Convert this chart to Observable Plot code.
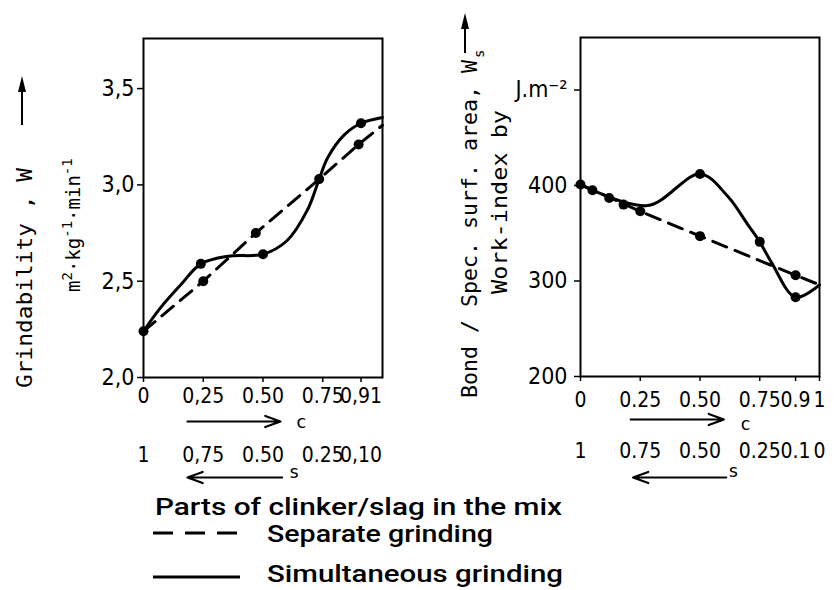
<!DOCTYPE html>
<html><head><meta charset="utf-8">
<script src="https://cdn.jsdelivr.net/npm/d3@7"></script>
<script src="https://cdn.jsdelivr.net/npm/@observablehq/plot@0.6"></script>
<style>
body{margin:0;background:#fff}
#wrap{position:relative;width:835px;height:590px;overflow:hidden;background:#fff}
#wrap > svg{position:absolute;top:0}
#overlay{left:0;pointer-events:none}
#overlay text{fill:#000}
</style></head><body><div id="wrap"></div>
<script>
// ---------- Left panel: Grindability W ----------
const cTicksL = [0, 0.25, 0.5, 0.75, 0.91];
const cLabelsL = ["0", "0,25", "0.50", "0.75", "0,91"];
const sLabelsL = ["1", "0,75", "0.50", "0.25", "0,10"];
const wTicks = [2.0, 2.5, 3.0, 3.5];
const wLabels = ["2,0", "2,5", "3,0", "3,5"];
// simultaneous grinding curve (solid)
const simC_L = [0, 0.07, 0.155, 0.24, 0.355, 0.5, 0.60, 0.686, 0.735, 0.77, 0.84, 0.91, 1.0];
const simW_L = [2.24, 2.36, 2.48, 2.59, 2.63, 2.64, 2.71, 2.87, 3.03, 3.14, 3.26, 3.32, 3.35];
// separate grinding curve (dashed)
const sepC_L = [0, 0.25, 0.47, 0.735, 0.9, 1.0];
const sepW_L = [2.24, 2.50, 2.75, 3.03, 3.21, 3.31];
// measured points
const dotC_L = [0, 0.24, 0.5, 0.735, 0.91, 0.25, 0.47, 0.9];
const dotW_L = [2.24, 2.59, 2.64, 3.03, 3.32, 2.50, 2.75, 3.21];

// ---------- Right panel: Work-index Ws ----------
const cTicksR = [0, 0.25, 0.5, 0.75, 0.9, 1];
const cLabelsR = ["0", "0.25", "0.50", "0.75", "0.9", "1"];
const sLabelsR = ["1", "0.75", "0.50", "0.25", "0.1", "0"];
const wsTicks = [200, 300, 400, 500];
const wsLabels = ["200", "300", "400", "J.m\u207B\u00B2"];
const simC_R = [0, 0.28, 0.5, 0.615, 0.70, 0.75, 0.80, 0.9, 1.0];
const simW_R = [401, 379, 412, 389, 359, 341, 319, 283, 296];
const sepC_R = [0, 0.25, 0.5, 0.9, 1.0];
const sepW_R = [401, 373, 347, 306, 296];
const dotC_R = [0, 0.5, 0.75, 0.9, 0.05, 0.12, 0.18, 0.25, 0.5, 0.9];
const dotW_R = [401, 412, 341, 283, 395, 387, 380, 373, 347, 306];

// direction arrows (in c units) and their letters
const arrowsL = [{x1: 0.184, x2: 0.573, dy: 44}, {x1: 0.58, x2: 0.184, dy: 100}];
const lettersL = [{x: 0.66, t: "c", dy: 50}, {x: 0.63, t: "s", dy: 100}];
const arrowsR = [{x1: 0.21, x2: 0.60, dy: 43}, {x1: 0.61, x2: 0.22, dy: 101}];
const lettersR = [{x: 0.69, t: "c", dy: 53}, {x: 0.64, t: "s", dy: 100}];

const zip = (xs, ys) => xs.map((x, i) => ({x, y: ys[i]}));
const tickFmt = (ticks, labels) => d => labels[ticks.indexOf(d)];

function panel(o) {
  const y0 = o.yDomain[0];
  return Plot.plot({
    width: o.width, height: 490,
    marginLeft: o.ml, marginRight: o.mr, marginTop: o.mt, marginBottom: 490 - o.bottom,
    x: {domain: [0, 1]},
    y: {domain: o.yDomain},
    style: {fontFamily: "'Liberation Sans Narrow', 'DejaVu Sans Condensed', sans-serif", fontSize: "22px", color: "#000", background: "white", overflow: "visible"},
    marks: [
      Plot.frame({strokeWidth: 2}),
      Plot.axisY({ticks: o.yTicks, tickFormat: tickFmt(o.yTicks, o.yLabels), tickSize: 6, tickPadding: o.yPad, label: null, strokeWidth: 1.5, fontSize: 23}),
      Plot.axisX({ticks: o.xTicks, tickFormat: tickFmt(o.xTicks, o.xLabels), tickSize: 5, tickPadding: o.xPad, label: null, strokeWidth: 1.5, fontSize: 21}),
      Plot.axisX({ticks: o.xTicks, tickFormat: tickFmt(o.xTicks, o.sLabels), tickSize: 0, tickPadding: o.sPad, label: null, fontSize: 21}),
      Plot.line(o.sep, {x: "x", y: "y", stroke: "black", strokeWidth: 3, strokeDasharray: "15,9"}),
      Plot.line(o.sim, {x: "x", y: "y", stroke: "black", strokeWidth: 3, curve: "catmull-rom"}),
      Plot.dot(o.dots, {x: "x", y: "y", r: 5, fill: "black", stroke: "none"}),
      ...o.arrows.map(a => Plot.arrow([a], {x1: "x1", x2: "x2", y1: () => y0, y2: () => y0, dy: a.dy, stroke: "black", strokeWidth: 2.2, headLength: 11, headAngle: 40})),
      ...o.letters.map(l => Plot.text([l], {x: "x", text: "t", frameAnchor: "bottom", dy: l.dy, fontSize: 18, fontFamily: "'DejaVu Sans Mono', monospace"}))
    ]
  });
}

const wrap = document.getElementById("wrap");

const left = panel({
  width: 420, ml: 143, mr: 38, mt: 38, bottom: 377,
  yDomain: [2.0, 3.76], yTicks: wTicks, yLabels: wLabels, yPad: 3,
  xTicks: cTicksL, xLabels: cLabelsL, sLabels: sLabelsL, xPad: 6, sPad: 70,
  sim: zip(simC_L, simW_L), sep: zip(sepC_L, sepW_L), dots: zip(dotC_L, dotW_L),
  arrows: arrowsL, letters: lettersL
});
left.style.left = "0px";
wrap.appendChild(left);

const right = panel({
  width: 415, ml: 160, mr: 16, mt: 37, bottom: 376,
  yDomain: [200, 555], yTicks: wsTicks, yLabels: wsLabels, yPad: 7,
  xTicks: cTicksR, xLabels: cLabelsR, sLabels: sLabelsR, xPad: 11, sPad: 67,
  sim: zip(simC_R, simW_R), sep: zip(sepC_R, sepW_R), dots: zip(dotC_R, dotW_R),
  arrows: arrowsR, letters: lettersR
});
right.style.left = "420px";
wrap.appendChild(right);

// ---------- axis titles and legend ----------
const NS = "http://www.w3.org/2000/svg";
const ov = document.createElementNS(NS, "svg");
ov.setAttribute("id", "overlay");
ov.setAttribute("width", 835); ov.setAttribute("height", 590);
ov.innerHTML = `
<g font-family="'DejaVu Sans Mono', monospace" font-size="22" style="white-space:pre">
  <text transform="translate(32,388) rotate(-90)" textLength="220" lengthAdjust="spacingAndGlyphs">Grindability ,  W</text>
  <text transform="translate(80,292) rotate(-90)" font-size="19">m<tspan dy="-8" font-size="14">2</tspan><tspan dy="8">·kg</tspan><tspan dy="-8" font-size="14">-1</tspan><tspan dy="8">·min</tspan><tspan dy="-8" font-size="14">-1</tspan></text>
  <text transform="translate(477,398) rotate(-90)" textLength="338" lengthAdjust="spacingAndGlyphs">Bond / Spec. surf. area, W</text>
  <text transform="translate(484,58) rotate(-90)" font-size="14">s</text>
  <text transform="translate(507,294) rotate(-90)" textLength="184" lengthAdjust="spacingAndGlyphs">Work-index  by</text>
</g>
<g stroke="#000" stroke-width="2" fill="#000">
  <line x1="22" y1="125" x2="22" y2="88"/>
  <polygon points="22,76 18,92 26,92" stroke="none"/>
  <line x1="465" y1="53" x2="465" y2="25"/>
  <polygon points="465,13 461,29 469,29" stroke="none"/>
</g>
<g font-family="Roboto, 'Open Sans', sans-serif" font-weight="500" font-size="24">
  <text x="155" y="515" textLength="407" lengthAdjust="spacingAndGlyphs">Parts of clinker/slag in the mix</text>
  <line x1="153" y1="533" x2="237" y2="533" stroke="#000" stroke-width="3" stroke-dasharray="20,12"/>
  <text x="267" y="542" textLength="226" lengthAdjust="spacingAndGlyphs">Separate grinding</text>
  <line x1="153" y1="577" x2="240" y2="577" stroke="#000" stroke-width="3"/>
  <text x="267" y="582" textLength="296" lengthAdjust="spacingAndGlyphs">Simultaneous grinding</text>
</g>`;
wrap.appendChild(ov);
</script>
</body></html>
